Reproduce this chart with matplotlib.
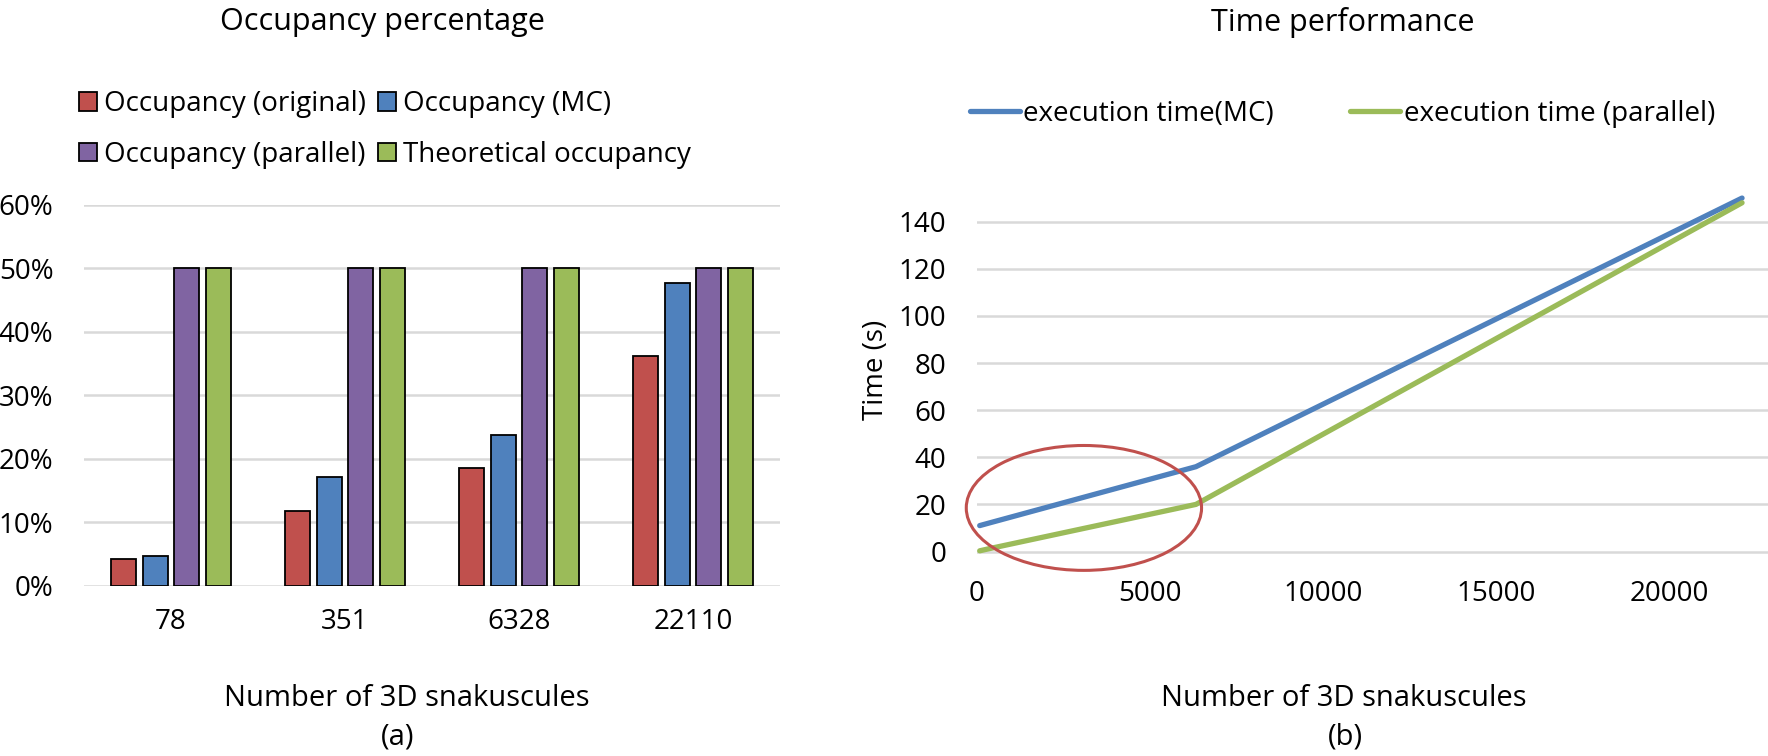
import numpy as np
import matplotlib.pyplot as plt
from matplotlib.patches import Ellipse
from matplotlib.ticker import FuncFormatter

plt.rcParams['font.family'] = ['Open Sans', 'DejaVu Sans']

# ---- data (a) occupancy ----
categories = ['78', '351', '6328', '22110']
occ_original = [4.2, 11.8, 18.5, 36.2]
occ_mc = [4.7, 17.1, 23.8, 47.7]
occ_parallel = [50, 50, 50, 50]
occ_theoretical = [50, 50, 50, 50]

# ---- data (b) time ----
n_snakes = [78, 351, 6328, 22110]
time_mc = [11.0, 12.1, 36.0, 150.0]
time_parallel = [0.3, 1.2, 20.0, 148.0]

# highlight circle (data coords of plot b)
circle_center = (3090, 18.5)
circle_size = (6800, 53)

W, H = 1768, 756
red, blue, purple, green = '#c0504d', '#4f81bd', '#8064a2', '#9bbb59'
grid_col = '#d9d9d9'

fig = plt.figure(figsize=(W / 100, H / 100), dpi=100)

# ---------------- (a) bars ----------------
ax1 = fig.add_axes([84 / W, (H - 586) / H, 696 / W, (586 - 204.7) / H])
x = np.arange(len(categories))
series = [(occ_original, red, 'Occupancy (original)'),
          (occ_mc, blue, 'Occupancy (MC)'),
          (occ_parallel, purple, 'Occupancy (parallel)'),
          (occ_theoretical, green, 'Theoretical occupancy')]
stride = 0.1816
bw = 0.145
bars = []
for i, (vals, col, lab) in enumerate(series):
    b = ax1.bar(x + (i - 1.5) * stride, vals, bw, color=col, edgecolor='black',
                linewidth=1.3, label=lab, zorder=3)
    bars.append(b)
ax1.set_xlim(-0.5, 3.5)
ax1.set_ylim(0, 60)
ax1.set_yticks(range(0, 61, 10))
ax1.yaxis.set_major_formatter(FuncFormatter(lambda v, p: f'{v:.0f}%'))
ax1.set_xticks(x)
ax1.set_xticklabels(categories)
ax1.grid(axis='y', color=grid_col, lw=1.8, zorder=0)
for s in ax1.spines.values():
    s.set_visible(False)
ax1.tick_params(axis='both', length=0, labelsize=20)
ax1.tick_params(axis='y', pad=22)
ax1.tick_params(axis='x', pad=16)

# row-wise legend order: original, MC / parallel, theoretical
order = [0, 2, 1, 3]
fig.legend([bars[i] for i in order], [series[i][2] for i in order],
           loc='upper left', bbox_to_anchor=(79 / W, 1 - 90 / H), ncol=2,
           frameon=False, fontsize=20, handlelength=0.65, handleheight=0.65,
           handletextpad=0.25, labelspacing=0.82, columnspacing=0.42,
           borderpad=0, borderaxespad=0)

fig.text(382 / W, 1 - 22 / H, 'Occupancy percentage', ha='center', va='center', fontsize=22)
fig.text(407 / W, 1 - 699 / H, 'Number of 3D snakuscules', ha='center', va='center', fontsize=21)
fig.text(398 / W, 1 - 737 / H, '(a)', ha='center', va='center', fontsize=21)

# ---------------- (b) lines ----------------
ax2 = fig.add_axes([977 / W, (H - 563.3) / H, 791 / W, (563.3 - 174.5) / H])
ax2.plot(n_snakes, time_mc, color=blue, lw=3.8, solid_capstyle='round',
         label='execution time(MC)', zorder=3)
ax2.plot(n_snakes, time_parallel, color=green, lw=3.8, solid_capstyle='round',
         label='execution time (parallel)', zorder=3)
ax2.add_patch(Ellipse(circle_center, circle_size[0], circle_size[1], fill=False,
                      edgecolor=red, lw=2.2, zorder=4, clip_on=False))
ax2.set_xlim(0, 22860)
ax2.set_ylim(-5, 160)
ax2.set_yticks(range(0, 141, 20))
ax2.set_xticks(range(0, 20001, 5000))
ax2.grid(axis='y', color=grid_col, lw=1.8, zorder=0)
for s in ax2.spines.values():
    s.set_visible(False)
ax2.tick_params(axis='both', length=0, labelsize=20)
ax2.tick_params(axis='y', pad=22)
ax2.tick_params(axis='x', pad=12)

fig.legend(handles=ax2.get_lines(), loc='upper left',
           bbox_to_anchor=(970 / W, 1 - 100 / H), ncol=2, frameon=False,
           fontsize=20, handlelength=1.8, handletextpad=0.12,
           columnspacing=2.75, borderpad=0, borderaxespad=0)

fig.text(876 / W, 1 - 370 / H, 'Time (s)', ha='center', va='center', rotation=90, fontsize=20)
fig.text(1343 / W, 1 - 22 / H, 'Time performance', ha='center', va='center', fontsize=22)
fig.text(1344 / W, 1 - 699 / H, 'Number of 3D snakuscules', ha='center', va='center', fontsize=21)
fig.text(1345 / W, 1 - 737 / H, '(b)', ha='center', va='center', fontsize=21)

fig.savefig('out.png', dpi=100)
